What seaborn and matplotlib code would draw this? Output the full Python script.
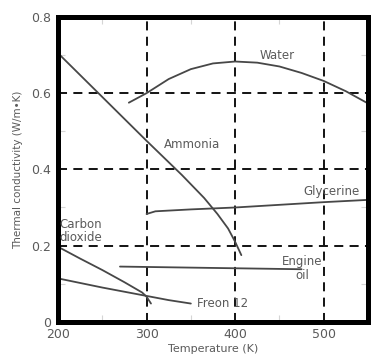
import numpy as np
import pandas as pd
import matplotlib.pyplot as plt
import seaborn as sns
from matplotlib.ticker import MultipleLocator

# Curves
water_t = [280, 300, 325, 350, 375, 400, 425, 450, 475, 500, 525, 550]
water_k = [0.575, 0.600, 0.637, 0.663, 0.678, 0.683, 0.680, 0.670, 0.653, 0.632, 0.605, 0.573]

ammonia_t = [200, 250, 300, 340, 365, 380, 392, 400, 407]
ammonia_k = [0.705, 0.590, 0.475, 0.385, 0.325, 0.283, 0.245, 0.210, 0.175]

glycerine_t = [300, 310, 350, 400, 450, 500, 550]
glycerine_k = [0.283, 0.290, 0.295, 0.300, 0.307, 0.314, 0.320]

oil_t = [270, 475]
oil_k = [0.145, 0.138]

co2_t = [200, 225, 250, 275, 295, 300, 305]
co2_k = [0.197, 0.166, 0.136, 0.104, 0.077, 0.066, 0.048]

freon_t = [200, 250, 300, 325, 350]
freon_k = [0.114, 0.090, 0.068, 0.057, 0.048]

x_ticks = [200, 300, 400, 500]
y_ticks = [0, 0.2, 0.4, 0.6, 0.8]
y_labels = ["0", "0.2", "0.4", "0.6", "0.8"]

sns.set_style("white")
plt.rcParams['font.family'] = ['DejaVu Sans']

fig = plt.figure(figsize=(3.74, 3.6), dpi=100)
ax = fig.add_axes([0.155, 0.106, 0.829, 0.847])

curve_col = "#474747"
text_col = "#5a5a5a"
for t, k in [(water_t, water_k), (ammonia_t, ammonia_k), (glycerine_t, glycerine_k),
             (oil_t, oil_k), (co2_t, co2_k), (freon_t, freon_k)]:
    sns.lineplot(x=t, y=k, ax=ax, color=curve_col, linewidth=1.3, sort=False)

ax.set_xlim(200, 550)
ax.set_ylim(0, 0.8)
ax.set_xticks(x_ticks)
ax.set_yticks(y_ticks)
ax.set_yticklabels(y_labels)
ax.xaxis.set_minor_locator(MultipleLocator(50))
ax.yaxis.set_minor_locator(MultipleLocator(0.1))

# dashed grid
for gx in [300, 400, 500]:
    ax.axvline(gx, color="black", linewidth=1.3, linestyle=(0, (5, 3.5)), zorder=1)
for gy in [0.2, 0.4, 0.6]:
    ax.axhline(gy, color="black", linewidth=1.3, linestyle=(0, (5, 3.5)), zorder=1)

ax.tick_params(axis="x", which="major", length=0, pad=4.5, labelsize=9, labelcolor=text_col)
ax.tick_params(axis="y", which="major", length=0, pad=5, labelsize=9, labelcolor=text_col)
ax.tick_params(which="minor", direction="in", length=5, width=0.8, color="#d5d5d5",
               top=True, bottom=True, left=True, right=True)

for s in ax.spines.values():
    s.set_linewidth(3.6)
    s.set_color("black")

ax.set_xlabel("Temperature (K)", fontsize=8, color=text_col, labelpad=2)
ax.set_ylabel("Thermal conductivity (W/m\u2022K)", fontsize=7.5, color=text_col, labelpad=6)

lab = dict(fontsize=8.5, color=text_col)
ax.text(448, 0.70, "Water", ha="center", va="center", **lab)
ax.text(351, 0.466, "Ammonia", ha="center", va="center", **lab)
ax.text(509, 0.343, "Glycerine", ha="center", va="center", **lab)
ax.text(202, 0.238, "Carbon\ndioxide", ha="left", va="center", linespacing=0.95, **lab)
ax.text(476, 0.14, "Engine\noil", ha="center", va="center", linespacing=1.1, **lab)
ax.text(357, 0.048, "Freon 12", ha="left", va="center", **lab)

plt.savefig("out.png", dpi=100, facecolor="white")
